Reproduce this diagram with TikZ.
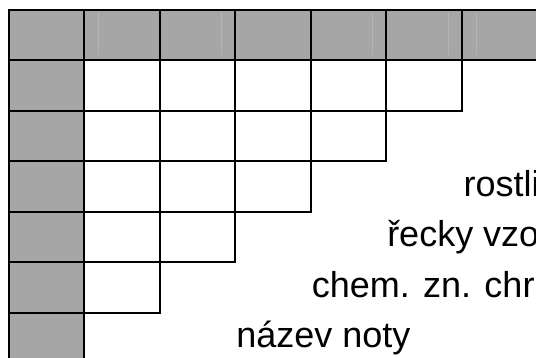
\documentclass[tikz,border=0pt]{standalone}
\usepackage{fontspec}
\setmainfont{Liberation Sans}
\newcommand{\colw}{75.45}
\newcommand{\rowh}{50.45}
\tikzset{
puzzle/.style = { x = 1pt, y = -1pt, line width = 2pt },
shaded/.style = { draw, fill = gray!70 },
blank/.style = { draw, fill = white },
clue/.style = { anchor = base west, inner sep = 0pt, font = \fontsize{36}{43}\selectfont },
streak/.style = { draw = gray!58, line width = 0.8pt } % faint marks in the top row
}

\begin{document}
\begin{tikzpicture}[puzzle]
	\useasboundingbox (0,0) rectangle (536,357);
	\clip (0,0) rectangle (536,357);
	% top row
	\foreach \c in {0,...,7}
		\draw[shaded] ({9+\c*\colw},10) rectangle ({9+(\c+1)*\colw},{10+\rowh});
	\foreach \x in {98.5,221.5,372.6,448.5,476}
		\draw[streak] (\x,12) -- (\x,55);
	% left column
	\foreach \r in {1,...,6}
		\draw[shaded] (9,{10+\r*\rowh}) rectangle ({9+\colw},{10+(\r+1)*\rowh});
	% white cells, one fewer in each row
	\foreach \r in {1,...,5} {
		\pgfmathtruncatemacro\last{6-\r}
		\foreach \c in {1,...,\last}
			\draw[blank] ({9+\c*\colw},{10+\r*\rowh}) rectangle ({9+(\c+1)*\colw},{10+(\r+1)*\rowh});
	}
	\node[clue] (clue3) at ({9+6*\colw+1},{10+3*\rowh+35}) {rostli};
	\node[clue] (clue4) at ({9+5*\colw},{10+4*\rowh+35}) {řecky vzo};
	\node[clue] (clue5) at ({9+4*\colw},{10+5*\rowh+35}) {chem. zn. chr};
	\node[clue] (clue6) at ({9+3*\colw},{10+6*\rowh+35}) {název noty};
\end{tikzpicture}
\end{document}
